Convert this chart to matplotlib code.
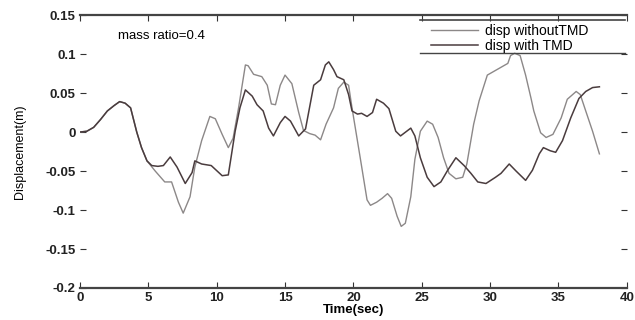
import numpy as np
import matplotlib.pyplot as plt

plt.rcParams['font.family'] = ['Liberation Sans', 'DejaVu Sans']

# displacement without TMD
t_without = [0, 0.5, 1, 1.5, 2, 2.5, 2.9, 3.3, 3.7, 4.15, 4.5, 4.9, 5.5, 6.2, 6.7, 7.2, 7.55,
             8.05, 8.4, 8.9, 9.5, 9.9, 10.4, 10.85, 11.2, 11.6, 12.1, 12.3, 12.7, 13.3, 13.7,
             14.0, 14.3, 14.65, 15.0, 15.5, 16.0, 16.35, 16.8, 17.2, 17.6, 18.0, 18.55, 18.9,
             19.3, 19.65, 19.9, 20.5, 21.0, 21.25, 21.7, 22.1, 22.5, 22.8, 23.2, 23.5, 23.8,
             24.2, 24.5, 24.9, 25.4, 25.8, 26.2, 26.6, 27.0, 27.5, 28.0, 28.3, 28.8, 29.2,
             29.8, 30.5, 31.3, 31.5, 31.8, 32.2, 32.6, 33.0, 33.2, 33.7, 34.1, 34.6, 35.2,
             35.65, 36.3, 36.6, 37.0, 37.5, 38.0]
d_without = [0, 0.001, 0.006, 0.016, 0.027, 0.034, 0.039, 0.037, 0.031, 0.0, -0.02, -0.037,
             -0.05, -0.064, -0.064, -0.09, -0.104, -0.083, -0.045, -0.011, 0.020, 0.017,
             -0.003, -0.020, -0.008, 0.031, 0.086, 0.085, 0.074, 0.071, 0.060, 0.036, 0.035,
             0.060, 0.073, 0.062, 0.025, 0.002, -0.002, -0.004, -0.010, 0.010, 0.031, 0.056,
             0.064, 0.060, 0.031, -0.033, -0.087, -0.094, -0.090, -0.085, -0.079, -0.085,
             -0.108, -0.121, -0.117, -0.083, -0.035, 0.001, 0.014, 0.010, -0.007, -0.033,
             -0.053, -0.060, -0.058, -0.041, 0.010, 0.040, 0.073, 0.080, 0.088, 0.098, 0.101,
             0.098, 0.073, 0.043, 0.027, -0.001, -0.007, -0.003, 0.018, 0.042, 0.052, 0.048,
             0.027, 0.001, -0.028]

# displacement with TMD
t_with = [0, 0.5, 1, 1.5, 2, 2.5, 2.9, 3.3, 3.7, 4.15, 4.5, 4.9, 5.25, 5.7, 6.1, 6.6, 7.1,
          7.7, 8.2, 8.4, 8.9, 9.6, 10.4, 10.85, 11.35, 11.7, 12.1, 12.6, 12.95, 13.4, 13.8,
          14.15, 14.65, 15.0, 15.4, 16.0, 16.5, 17.1, 17.6, 17.95, 18.2, 18.55, 18.8, 19.3,
          19.65, 19.9, 20.3, 20.6, 21.0, 21.4, 21.7, 22.2, 22.6, 23.1, 23.45, 24.2, 24.5,
          24.9, 25.4, 25.9, 26.4, 26.9, 27.5, 28.1, 28.6, 29.1, 29.7, 30.4, 30.8, 31.4, 31.9,
          32.6, 33.1, 33.6, 33.9, 34.4, 34.8, 35.3, 35.9, 36.5, 37.0, 37.5, 38.0]
d_with = [0, 0.001, 0.006, 0.016, 0.027, 0.034, 0.039, 0.037, 0.031, 0.0, -0.02, -0.037,
          -0.043, -0.044, -0.043, -0.032, -0.045, -0.066, -0.052, -0.037, -0.041, -0.043,
          -0.056, -0.055, 0.001, 0.031, 0.054, 0.046, 0.035, 0.027, 0.005, -0.005, 0.012,
          0.020, 0.014, -0.005, 0.004, 0.060, 0.067, 0.086, 0.090, 0.080, 0.071, 0.067, 0.048,
          0.027, 0.023, 0.024, 0.020, 0.025, 0.042, 0.037, 0.030, 0.001, -0.005, 0.005,
          -0.005, -0.033, -0.058, -0.070, -0.064, -0.049, -0.033, -0.043, -0.053, -0.064,
          -0.066, -0.058, -0.053, -0.041, -0.050, -0.062, -0.049, -0.028, -0.020, -0.024,
          -0.026, -0.011, 0.018, 0.043, 0.052, 0.057, 0.058]

xticks = np.arange(0, 41, 5)
yticks = [-0.2, -0.15, -0.1, -0.05, 0, 0.05, 0.1, 0.15]
yticklabels = ['-0.2', '-0.15', '-0.1', '-0.05', '0', '0.05', '0.1', '0.15']

fig = plt.figure(figsize=(6.35, 3.2), dpi=100)
ax = fig.add_axes([0.126, 0.1, 0.861, 0.853])

ax.plot(t_without, d_without, color='#8c8888', lw=1.0, label='disp withoutTMD')
ax.plot(t_with, d_with, color='#4a3c3e', lw=1.1, label='disp with TMD')

ax.set_xlim(0, 40)
ax.set_ylim(-0.2, 0.15)
ax.set_xticks(xticks)
ax.set_yticks(yticks)
ax.set_yticklabels(yticklabels)
ax.tick_params(direction='in', length=4, width=0.8, top=True, right=True,
               labelsize=9.5, pad=3, colors='#333333')
for lab in ax.get_xticklabels() + ax.get_yticklabels():
    lab.set_fontweight('bold')
    lab.set_color('#222222')

for side in ['left', 'right']:
    ax.spines[side].set_visible(False)
for side in ['top', 'bottom']:
    ax.spines[side].set_linewidth(1.6)
    ax.spines[side].set_color('#444444')

ax.set_xlabel('Time(sec)', fontsize=9.5, fontweight='bold', labelpad=0)
ax.set_ylabel('Displacement(m)', fontsize=9, labelpad=14)

ax.text(2.8, 0.123, 'mass ratio=0.4', fontsize=9.5, va='center', ha='left')

leg = ax.legend(loc='upper left', bbox_to_anchor=(0.637, 0.978), frameon=False,
                fontsize=10, handlelength=3.4, handletextpad=0.5, labelspacing=0.05,
                borderaxespad=0, borderpad=0.2)
# horizontal rules above and below the legend
ax.plot([0.622, 0.996], [0.982, 0.982], transform=ax.transAxes, color='#444444', lw=1.2)
ax.plot([0.622, 0.996], [0.861, 0.861], transform=ax.transAxes, color='#444444', lw=1.0)

plt.savefig('out.png', dpi=100)
